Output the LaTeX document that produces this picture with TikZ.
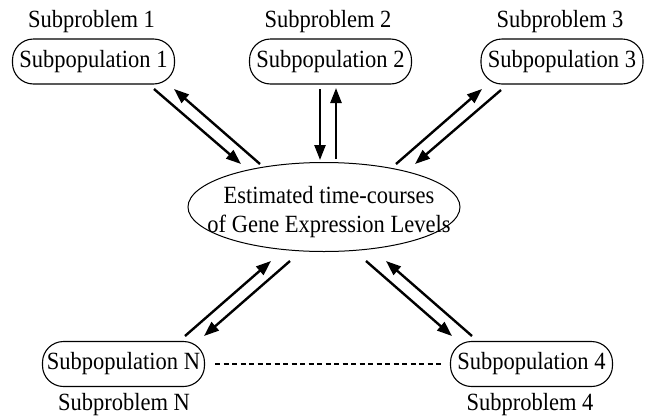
\documentclass[tikz,border=0pt]{standalone}
\usepackage{fontspec}
\usepackage{graphicx}
\setmainfont{Liberation Serif}
\usetikzlibrary{arrows.meta,shapes.geometric}
\newcommand{\talltext}[1]{\scalebox{1}[1.1]{#1}}
\begin{document}
\begin{tikzpicture}[x=1pt,y=-1pt,
  pop/.style={draw,line width=1.1pt,rounded corners=21pt,minimum width=162pt,minimum height=45pt,inner sep=0pt,font=\fontsize{22.5}{26}\selectfont},
  lbl/.style={inner sep=0pt,font=\fontsize{22.5}{26}\selectfont},
  arr/.style={line width=2.4pt,-{Triangle[length=15pt,width=11pt]}}]
\useasboundingbox (0,0) rectangle (648,418);
\node[pop] (p1) at (93.5,61.5) {\talltext{Subpopulation 1}};
\node[pop] (p2) at (330.5,61.5) {\talltext{Subpopulation 2}};
\node[pop] (p3) at (562,61.5) {\talltext{Subpopulation 3}};
\node[pop] (pN) at (123.5,364) {\talltext{Subpopulation N}};
\node[pop] (p4) at (531.5,364) {\talltext{Subpopulation 4}};
\node[lbl] (s1) at (91.5,22) {\talltext{Subproblem 1}};
\node[lbl] (s2) at (328,22) {\talltext{Subproblem 2}};
\node[lbl] (s3) at (560,22) {\talltext{Subproblem 3}};
\node[lbl] (sN) at (124,405) {\talltext{Subproblem N}};
\node[lbl] (s4) at (530,405) {\talltext{Subproblem 4}};
\node[draw,ellipse,line width=1pt,minimum width=272pt,minimum height=89pt,inner sep=0pt] (e) at (324,207) {};
\node[inner sep=0pt,font=\fontsize{22.5}{27}\selectfont] (et) at (329,212) {\talltext{\begin{tabular}{@{}c@{}}Estimated time-courses\\[-1pt]of Gene Expression Levels\end{tabular}}};
% endpoints
\coordinate (a1s) at (154,89); \coordinate (a1e) at (241,164);
\coordinate (b1s) at (260,164); \coordinate (b1e) at (174,89);
\coordinate (a2s) at (320,89); \coordinate (a2e) at (320,160);
\coordinate (b2s) at (336,159); \coordinate (b2e) at (336,88);
\coordinate (a3s) at (501,90); \coordinate (a3e) at (415,164);
\coordinate (b3s) at (396,164); \coordinate (b3e) at (482,89);
\coordinate (aNs) at (185,336); \coordinate (aNe) at (271,261);
\coordinate (bNs) at (290,261); \coordinate (bNe) at (204,336);
\coordinate (a4s) at (366,261); \coordinate (a4e) at (452,336);
\coordinate (b4s) at (472,336); \coordinate (b4e) at (386,261);
\draw[arr] (a1s) -- (a1e);
\draw[arr] (b1s) -- (b1e);
\draw[arr] (a2s) -- (a2e);
\draw[arr] (b2s) -- (b2e);
\draw[arr] (a3s) -- (a3e);
\draw[arr] (b3s) -- (b3e);
\draw[arr] (aNs) -- (aNe);
\draw[arr] (bNs) -- (bNe);
\draw[arr] (a4s) -- (a4e);
\draw[arr] (b4s) -- (b4e);
\draw[line width=2pt,dash pattern=on 5pt off 3.5pt] ([xshift=10pt]pN.east) -- ([xshift=-9pt]p4.west);
\end{tikzpicture}
\end{document}
